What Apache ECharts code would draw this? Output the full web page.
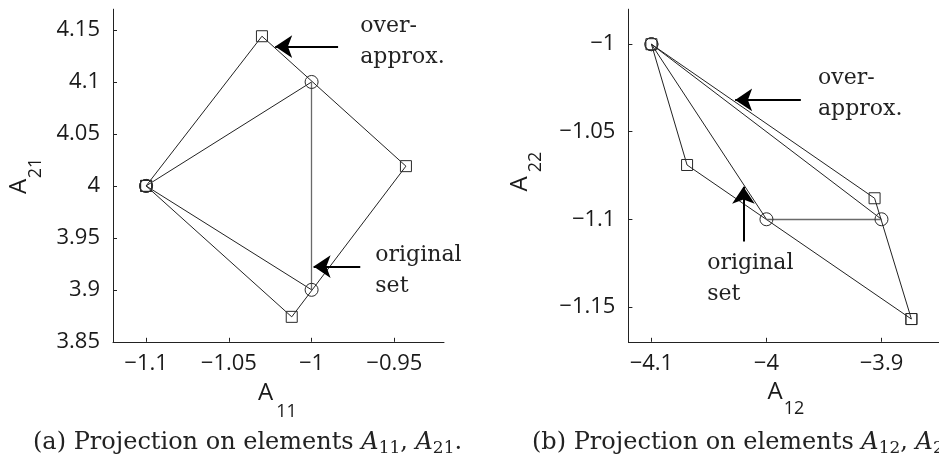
<!DOCTYPE html>
<html>
<head>
<meta charset="utf-8">
<title>Projections of the original set and its over-approximation</title>
<script src="https://cdn.jsdelivr.net/npm/echarts@6/dist/echarts.min.js"></script>
<style>
  html, body { margin: 0; padding: 0; background: #fff; }
  #chart { width: 939px; height: 468px; }
</style>
</head>
<body>
<div id="chart"></div>
<script>
// ---- (a) projection on elements A11, A21 ----
const originalA = [[-1.1, 4], [-1, 4.1], [-1, 3.9], [-1.1, 4]];
const overApproxA = [[-1.1, 4], [-1.03, 4.144], [-0.943, 4.019], [-1.012, 3.874], [-1.1, 4]];
const xTicksA = [-1.1, -1.05, -1, -0.95];
const yTicksA = [3.85, 3.9, 3.95, 4, 4.05, 4.1, 4.15];

// ---- (b) projection on elements A12, A22 ----
const originalB = [[-4.1, -1], [-4, -1.1], [-3.9, -1.1], [-4.1, -1]];
const overApproxB = [[-3.874, -1.157], [-4.069, -1.069], [-4.1, -1], [-3.906, -1.088], [-3.874, -1.157]];
const xTicksB = [-4.1, -4, -3.9];
const yTicksB = [-1.15, -1.1, -1.05, -1];

// annotation arrows as [tail, tip] in data units, and note anchors
const arrowsA = [[[-0.984, 4.134], [-1.022, 4.134]], [[-0.9706, 3.9224], [-0.9988, 3.9224]]];
const arrowsB = [[[-3.9701, -1.0318], [-4.0272, -1.0318]], [[-4.020, -1.1127], [-4.020, -1.0814]]];
const notesA = [{ at: [-0.9706, 4.152], text: 'over-\napprox.' }, { at: [-0.9615, 3.932], text: 'original\nset' }];
const notesB = [{ at: [-3.9552, -1.0204], text: 'over-\napprox.' }, { at: [-4.0515, -1.126], text: 'original\nset' }];

const INK = '#222';
const SANS = '"Open Sans", "Noto Sans", sans-serif';
const SERIF = '"DejaVu Serif", serif';

const minusFmt = v => String(v).replace('-', '\u2212');

function xAxis(gi, min, max, ticks) {
  return {
    type: 'value', gridIndex: gi, min: min, max: max,
    axisLine: { show: true, onZero: false, lineStyle: { color: INK, width: 1 } },
    axisTick: { show: true, inside: true, length: 4, customValues: ticks, lineStyle: { color: INK } },
    axisLabel: { customValues: ticks, formatter: minusFmt, fontFamily: SANS, fontSize: 22, color: '#1a1a1a', margin: 11 },
    splitLine: { show: false }
  };
}
function yAxis(gi, min, max, ticks) {
  return {
    type: 'value', gridIndex: gi, min: min, max: max,
    axisLine: { show: true, onZero: false, lineStyle: { color: INK, width: 1 } },
    axisTick: { show: true, inside: true, length: 4, customValues: ticks, lineStyle: { color: INK } },
    axisLabel: { customValues: ticks, formatter: minusFmt, fontFamily: SANS, fontSize: 22, color: '#1a1a1a', margin: 13 },
    splitLine: { show: false }
  };
}

// polygon edges; axis-parallel edges render lighter
function edgeSeries(poly, gi) {
  const data = [];
  for (let i = 0; i + 1 < poly.length; i++) {
    const a = poly[i], b = poly[i + 1];
    const straight = a[0] === b[0] || a[1] === b[1];
    data.push({ coords: [a, b], lineStyle: straight ? { color: '#6a6a6a', width: 1.3 } : {} });
  }
  return {
    type: 'lines', coordinateSystem: 'cartesian2d', xAxisIndex: gi, yAxisIndex: gi,
    silent: true, symbol: 'none', z: 2,
    lineStyle: { color: INK, width: 1, opacity: 1, curveness: 0 },
    data: data
  };
}
function markerSeries(poly, gi, shape, size) {
  return {
    type: 'scatter', xAxisIndex: gi, yAxisIndex: gi, silent: true, z: 3,
    symbol: shape, symbolSize: size,
    itemStyle: { color: 'transparent', borderColor: '#2a2a2a', borderWidth: 1, opacity: 1 },
    data: poly
  };
}
function arrowSeries(arrows, gi) {
  return {
    type: 'lines', coordinateSystem: 'cartesian2d', xAxisIndex: gi, yAxisIndex: gi,
    silent: true, z: 4,
    symbol: ['none', 'arrow'], symbolSize: [14, 17], symbolOffset: [0, 8.5],
    lineStyle: { color: '#000', width: 2, opacity: 1, curveness: 0 },
    data: arrows.map(a => ({ coords: a }))
  };
}

const chart = echarts.init(document.getElementById('chart'), null, { renderer: 'canvas' });

chart.setOption({
  backgroundColor: '#fff',
  animation: false,
  grid: [
    { left: 113, top: 9.2, width: 331, height: 332.6 },
    { left: 628.4, top: 9.2, width: 315, height: 332.6 }
  ],
  xAxis: [xAxis(0, -1.12, -0.92, xTicksA), xAxis(1, -4.12, -3.85, xTicksB)],
  yAxis: [yAxis(0, 3.85, 4.17, yTicksA), yAxis(1, -1.17, -0.98, yTicksB)],
  series: [
    edgeSeries(overApproxA, 0), edgeSeries(originalA, 0),
    markerSeries(overApproxA, 0, 'rect', 11), markerSeries(originalA, 0, 'circle', 13),
    arrowSeries(arrowsA, 0),
    edgeSeries(overApproxB, 1), edgeSeries(originalB, 1),
    markerSeries(overApproxB, 1, 'rect', 11), markerSeries(originalB, 1, 'circle', 13),
    arrowSeries(arrowsB, 1)
  ]
});

// text elements: notes, axis titles, sub-figure captions
const graphics = [];
function note(n, gi) {
  const p = chart.convertToPixel({ gridIndex: gi }, n.at);
  graphics.push({
    type: 'text', silent: true, z: 10,
    style: { text: n.text, x: p[0], y: p[1] - 17, font: '22px ' + SERIF, fill: INK,
             lineHeight: 31, align: 'left', verticalAlign: 'top', textAlign: 'left', textVerticalAlign: 'top' }
  });
}
notesA.forEach(n => note(n, 0));
notesB.forEach(n => note(n, 1));

function sym(text, x, y, size, rot) {
  graphics.push({
    type: 'text', silent: true, z: 10, x: x, y: y, rotation: rot || 0,
    style: { text: text, x: 0, y: 0, font: size + 'px ' + SANS, fill: '#1a1a1a',
             align: 'center', verticalAlign: 'middle', textAlign: 'center', textVerticalAlign: 'middle' }
  });
}
// horizontal axis titles
sym('A', 265.7, 393.5, 24); sym('11', 286.5, 411.5, 18);
sym('A', 775, 392, 24); sym('12', 794, 409, 18);
// vertical axis titles
sym('A', 19, 186.5, 24, Math.PI / 2); sym('21', 35.5, 168, 18, Math.PI / 2);
sym('A', 520, 184, 24, Math.PI / 2); sym('22', 536, 162, 18, Math.PI / 2);

function caption(label, sub1, sub2, x) {
  graphics.push({
    type: 'text', silent: true, z: 10,
    style: {
      text: label + ' Projection on elements {i|A}{s|' + sub1 + '}, {i|A}{s|' + sub2 + '}.',
      x: x, y: 443, font: '24px ' + SERIF, fill: INK,
      align: 'left', verticalAlign: 'middle', textAlign: 'left', textVerticalAlign: 'middle',
      rich: {
        i: { fontFamily: SERIF, fontSize: 24, fontStyle: 'italic', fill: INK, color: INK },
        s: { fontFamily: SERIF, fontSize: 17, fill: INK, color: INK, padding: [11, 0, 0, 0] }
      }
    }
  });
}
caption('(a)', '11', '21', 33);
caption('(b)', '12', '22', 532);

chart.setOption({ graphic: graphics });
</script>
</body>
</html>
